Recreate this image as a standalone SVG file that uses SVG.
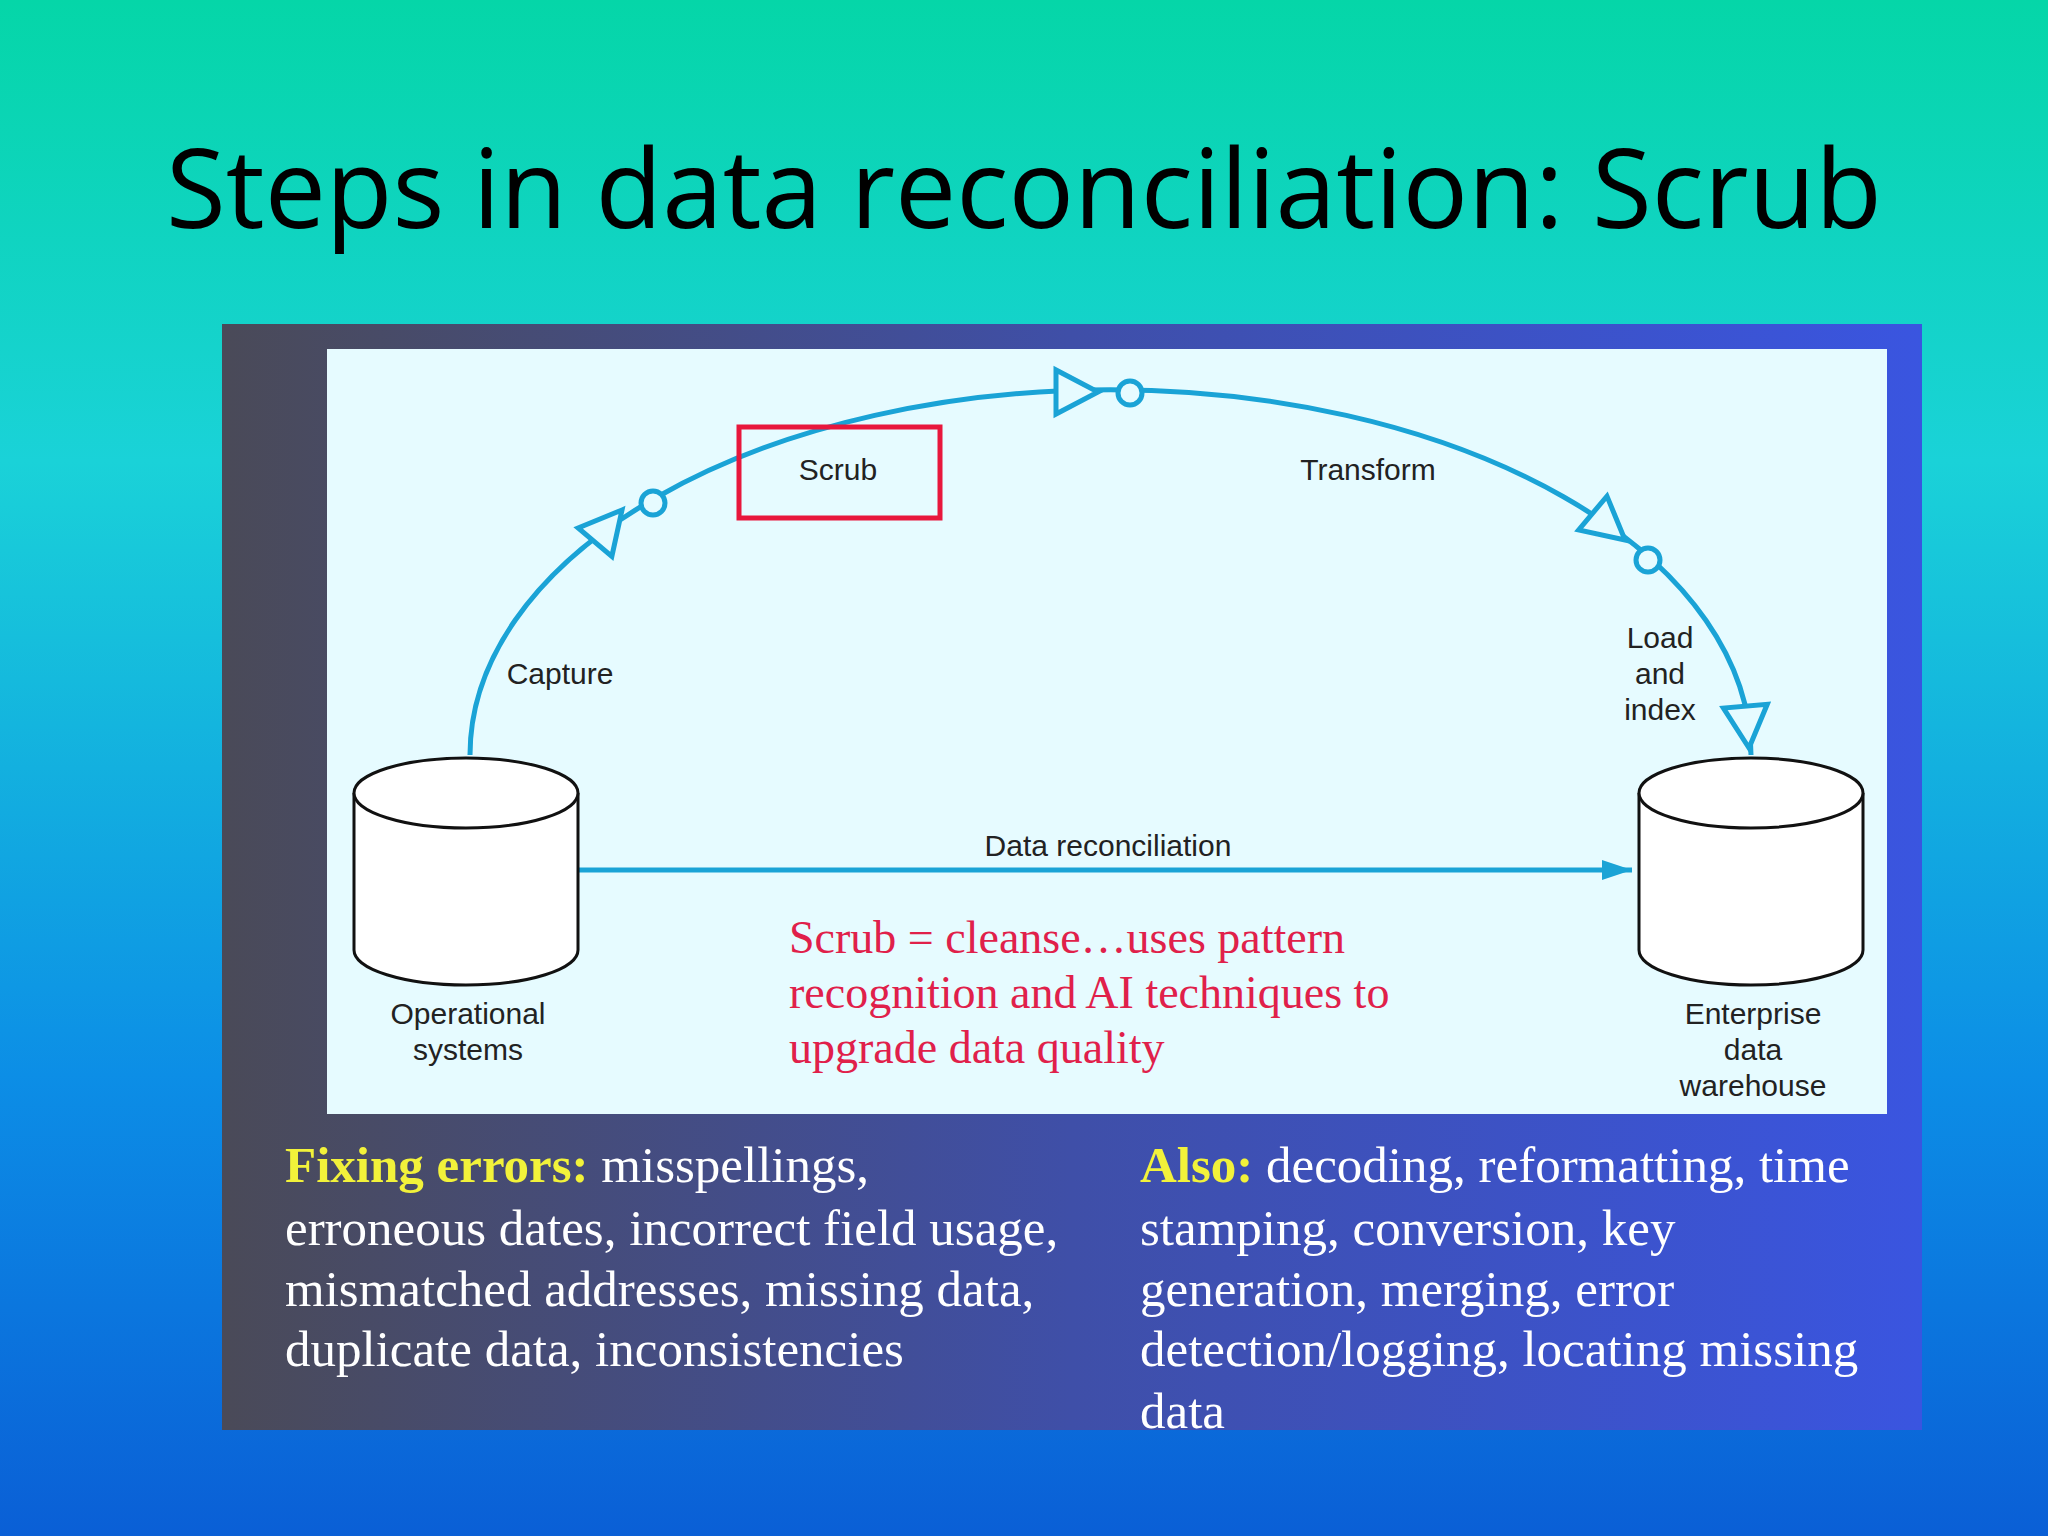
<svg xmlns="http://www.w3.org/2000/svg" width="2048" height="1536" viewBox="0 0 2048 1536">
<defs>
<linearGradient id="bg" x1="0" y1="0" x2="0" y2="1">
<stop offset="0" stop-color="#05d6a8"/><stop offset="0.3" stop-color="#1ad2d8"/><stop offset="0.7" stop-color="#0c8ee6"/><stop offset="1" stop-color="#0a5fd6"/>
</linearGradient>
<linearGradient id="panel" x1="0" y1="0" x2="1" y2="0">
<stop offset="0" stop-color="#4a4a58"/><stop offset="0.5" stop-color="#3f4fa8"/><stop offset="1" stop-color="#3a55e0"/>
</linearGradient>
<marker id="ah2" markerWidth="30" markerHeight="20" refX="30" refY="10" orient="auto" markerUnits="userSpaceOnUse"><path d="M0,0 L30,10 L0,20 Z" fill="#1aa3d6"/></marker>
<style>
.lbl{font-family:"Liberation Sans",Arial,sans-serif;font-size:30px;fill:#222;text-anchor:middle}
.ln{fill:none;stroke:#1aa3d6;stroke-width:5}
.tri{fill:#e6fbff;stroke:#1aa3d6;stroke-width:5}
.body{font-family:"Liberation Serif","Times New Roman",serif;font-size:51px;fill:#fff}
.hl{fill:#f2f23a;font-weight:bold}
.red{font-family:"Liberation Serif","Times New Roman",serif;font-size:46px;fill:#e0204a}
</style>
</defs>
<rect width="2048" height="1536" fill="url(#bg)"/>
<text x="1024" y="228" text-anchor="middle" font-family="'Open Sans','Noto Sans',sans-serif" font-size="109" fill="#000">Steps in data reconciliation: Scrub</text>
<rect x="222" y="324" width="1700" height="1106" fill="url(#panel)"/>
<rect x="327" y="349" width="1560" height="765" fill="#e6fbff"/>
<g id="connectors">
<path class="ln" d="M470 755 A640 365 0 0 1 1751 755"/>
<line class="ln" x1="578" y1="870" x2="1632" y2="870" marker-end="url(#ah2)"/>
<polygon class="tri" points="0,0 -42,-22 -42,22" transform="translate(622,510) rotate(-50)"/>
<polygon class="tri" points="0,0 -42,-22 -42,22" transform="translate(1098,392) rotate(0)"/>
<polygon class="tri" points="0,0 -42,-22 -42,22" transform="translate(1625,540) rotate(40)"/>
<polygon class="tri" points="0,0 -42,-22 -42,22" transform="translate(1749,748) rotate(85)"/>
<circle class="tri" cx="653" cy="503" r="12"/>
<circle class="tri" cx="1130" cy="393" r="12"/>
<circle class="tri" cx="1648" cy="560" r="12"/>
</g>
<g id="scrub"><rect x="739" y="427" width="201" height="91" fill="none" stroke="#e8173c" stroke-width="5"/><text class="lbl" x="838" y="480">Scrub</text></g>
<g id="transform"><text class="lbl" x="1368" y="480">Transform</text></g>
<g id="capture"><text class="lbl" x="560" y="684">Capture</text></g>
<g id="load"><text class="lbl" x="1660" y="648">Load</text><text class="lbl" x="1660" y="684">and</text><text class="lbl" x="1660" y="720">index</text></g>
<g id="recon"><text class="lbl" x="1108" y="856">Data reconciliation</text></g>
<g id="operational">
<path d="M354 793 L354 950 A112 35 0 0 0 578 950 L578 793" fill="#fff" stroke="#111" stroke-width="3"/>
<ellipse cx="466" cy="793" rx="112" ry="35" fill="#fff" stroke="#111" stroke-width="3"/>
<text class="lbl" x="468" y="1024">Operational</text><text class="lbl" x="468" y="1060">systems</text>
</g>
<g id="enterprise">
<path d="M1639 793 L1639 950 A112 35 0 0 0 1863 950 L1863 793" fill="#fff" stroke="#111" stroke-width="3"/>
<ellipse cx="1751" cy="793" rx="112" ry="35" fill="#fff" stroke="#111" stroke-width="3"/>
<text class="lbl" x="1753" y="1024">Enterprise</text><text class="lbl" x="1753" y="1060">data</text><text class="lbl" x="1753" y="1096">warehouse</text>
</g>
<g id="note">
<text class="red" x="789" y="953">Scrub = cleanse…uses pattern</text>
<text class="red" x="789" y="1008">recognition and AI techniques to</text>
<text class="red" x="789" y="1063">upgrade data quality</text>
</g>
<g id="left-text">
<text class="body" x="285" y="1182"><tspan class="hl">Fixing errors:</tspan> misspellings,</text>
<text class="body" x="285" y="1245">erroneous dates, incorrect field usage,</text>
<text class="body" x="285" y="1306">mismatched addresses, missing data,</text>
<text class="body" x="285" y="1366">duplicate data, inconsistencies</text>
</g>
<g id="right-text">
<text class="body" x="1140" y="1182"><tspan class="hl">Also:</tspan> decoding, reformatting, time</text>
<text class="body" x="1140" y="1245">stamping, conversion, key</text>
<text class="body" x="1140" y="1306">generation, merging, error</text>
<text class="body" x="1140" y="1366">detection/logging, locating missing</text>
<text class="body" x="1140" y="1428">data</text>
</g>
</svg>
